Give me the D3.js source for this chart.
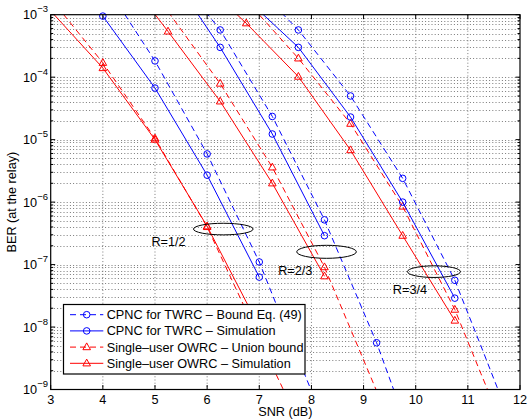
<!DOCTYPE html>
<html>
<head>
<meta charset="utf-8">
<script src="https://cdn.jsdelivr.net/npm/d3@7"></script>
<style>
  html, body { margin: 0; padding: 0; background: #fff; }
  svg { display: block; font-family: "Liberation Sans", Arial, Helvetica, sans-serif; }
</style>
</head>
<body>
<svg id="chart" width="529" height="419"></svg>
<script>
// ---- data: BER at the relay vs SNR (dB) ----
const snrTicks = [3, 4, 5, 6, 7, 8, 9, 10, 11, 12];
const berDecades = [-9, -8, -7, -6, -5, -4, -3];

// SNR points that carry a marker, per code rate
const markSnrR12 = [4, 5, 6, 7];
const markSnrR23 = [5.25, 6.25, 7.25, 8.25, 9.25];
const markSnrR34 = [6.75, 7.75, 8.75, 9.75, 10.75];

// R = 1/2
const snrBoundR12 = [4, 5, 6, 7, 7.5, 8];
const berBoundR12 = [3.5e-3, 1.82e-4, 5.9e-6, 1.1e-7, 1.0e-8, 9.5e-10];
const snrSimR12 = [4, 5, 6, 7];
const berSimR12 = [9.5e-4, 6.7e-5, 2.7e-6, 6.3e-8];
const snrUnionR12 = [3, 4, 5, 6, 7, 7.5];
const berUnionR12 = [1.8e-3, 1.7e-4, 1.05e-5, 4.0e-7, 6.5e-9, 8.5e-10];
const snrSuSimR12 = [3, 4, 5, 6, 7];
const berSuSimR12 = [1.15e-3, 1.4e-4, 1.0e-5, 4.1e-7, 1.0e-8];

// R = 2/3
const snrBoundR23 = [5.25, 6.25, 7.25, 8.25, 9.25, 9.75];
const berBoundR23 = [6.3e-3, 5.7e-4, 2.35e-5, 5.2e-7, 5.6e-9, 4.0e-10];
const snrSimR23 = [5.25, 6.25, 7.25, 8.25];
const berSimR23 = [5.2e-3, 3.0e-4, 1.23e-5, 2.9e-7];
const snrUnionR23 = [5.25, 6.25, 7.25, 8.25, 9.25];
const berUnionR23 = [1.12e-3, 7.9e-5, 3.6e-6, 9.1e-8, 9.5e-10];
const snrSuSimR23 = [4.75, 5.25, 6.25, 7.25, 8.25];
const berSuSimR23 = [1.9e-3, 5.4e-4, 4.1e-5, 2.0e-6, 6.5e-8];

// R = 3/4
const snrBoundR34 = [6.75, 7.75, 8.75, 9.75, 10.75, 11.25, 11.75];
const berBoundR34 = [4.0e-3, 5.7e-4, 5.0e-5, 2.4e-6, 5.6e-8, 5.0e-9, 4.3e-10];
const snrSimR34 = [6.75, 7.75, 8.75, 9.75, 10.75];
const berSimR34 = [1.8e-3, 3.0e-4, 2.3e-5, 1.0e-6, 2.9e-8];
const snrUnionR34 = [6.75, 7.75, 8.75, 9.75, 10.75, 11.25, 11.75];
const berUnionR34 = [1.7e-3, 2.0e-4, 1.8e-5, 8.5e-7, 1.9e-8, 1.8e-9, 1.8e-10];
const snrSuSimR34 = [6.25, 6.75, 7.75, 8.75, 9.75, 10.75];
const berSuSimR34 = [1.8e-3, 7.3e-4, 1.02e-4, 6.8e-6, 2.9e-7, 1.27e-8];

const seriesNames = [
  "CPNC for TWRC \u2013 Bound Eq. (49)",
  "CPNC for TWRC \u2013 Simulation",
  "Single\u2013user OWRC \u2013 Union bound",
  "Single\u2013user OWRC \u2013 Simulation"
];

// rate annotations: ellipse centre, label centre (SNR, BER)
const rateLabels = ["R=1/2", "R=2/3", "R=3/4"];
const ellipseSnr = [6.31, 8.29, 10.35];
const ellipseBer = [3.7e-7, 1.6e-7, 7.7e-8];
const labelSnr = [5.26, 7.69, 9.89];
const labelBer = [2.3e-7, 7.9e-8, 4.0e-8];

// ---- styles ----
const BLUE = "#0000ff", RED = "#ff0000";
const styles = [
  { color: BLUE, dash: "6,4", marker: "circle" },
  { color: BLUE, dash: null, marker: "circle" },
  { color: RED, dash: "6,4", marker: "triangle" },
  { color: RED, dash: null, marker: "triangle" }
];

const curves = [
  { s: 0, snr: snrBoundR12, ber: berBoundR12, marks: markSnrR12 },
  { s: 2, snr: snrUnionR12, ber: berUnionR12, marks: markSnrR12 },
  { s: 1, snr: snrSimR12, ber: berSimR12, marks: markSnrR12 },
  { s: 3, snr: snrSuSimR12, ber: berSuSimR12, marks: markSnrR12 },
  { s: 0, snr: snrBoundR23, ber: berBoundR23, marks: markSnrR23 },
  { s: 2, snr: snrUnionR23, ber: berUnionR23, marks: markSnrR23 },
  { s: 1, snr: snrSimR23, ber: berSimR23, marks: markSnrR23 },
  { s: 3, snr: snrSuSimR23, ber: berSuSimR23, marks: markSnrR23 },
  { s: 0, snr: snrBoundR34, ber: berBoundR34, marks: markSnrR34 },
  { s: 2, snr: snrUnionR34, ber: berUnionR34, marks: markSnrR34 },
  { s: 1, snr: snrSimR34, ber: berSimR34, marks: markSnrR34 },
  { s: 3, snr: snrSuSimR34, ber: berSuSimR34, marks: markSnrR34 }
];

// ---- layout ----
const L = 50.7, R = 520, T = 14.7, B = 389.5;
const x = d3.scaleLinear().domain([3, 12]).range([L, R]);
const y = d3.scaleLog().domain([1e-9, 1e-3]).range([B, T]);

const svg = d3.select("#chart");
svg.append("defs").append("clipPath").attr("id", "plotClip")
  .append("rect").attr("x", L).attr("y", T).attr("width", R - L).attr("height", B - T);

// grid
const grid = svg.append("g").attr("stroke", "#7a7a7a").attr("stroke-width", 1)
  .attr("stroke-dasharray", "1,2.2").attr("fill", "none");
snrTicks.slice(1, -1).forEach(v => {
  grid.append("line").attr("x1", x(v)).attr("x2", x(v)).attr("y1", T).attr("y2", B);
});
const yGridVals = [];
berDecades.forEach(d => {
  for (let m = 1; m <= 9; m++) {
    const v = m * Math.pow(10, d);
    if (v > 1e-9 * 1.0001 && v < 1e-3 * 0.9999) yGridVals.push(v);
  }
});
yGridVals.forEach(v => {
  const yy = Math.round(y(v)) + 0.5;
  grid.append("line").attr("x1", L).attr("x2", R).attr("y1", yy).attr("y2", yy);
});

// markers
function markerPath(type) {
  if (type === "circle") return d3.path();
  return null;
}
function drawMarker(g, type, cx, cy, color) {
  if (type === "circle") {
    g.append("circle").attr("cx", cx).attr("cy", cy).attr("r", 3.3)
      .attr("fill", "none").attr("stroke", color).attr("stroke-width", 1);
  } else {
    g.append("path").attr("d", `M${cx},${cy - 4.2}L${cx + 3.8},${cy + 2.6}L${cx - 3.8},${cy + 2.6}Z`)
      .attr("fill", "none").attr("stroke", color).attr("stroke-width", 1);
  }
}

// curves
const line = d3.line().x(d => x(d[0])).y(d => y(d[1]));
const curveG = svg.append("g");
curves.forEach(c => {
  const st = styles[c.s];
  const pts = c.snr.map((v, i) => [v, c.ber[i]]);
  curveG.append("path").attr("d", line(pts)).attr("clip-path", "url(#plotClip)")
    .attr("fill", "none").attr("stroke", st.color).attr("stroke-width", 1)
    .attr("stroke-dasharray", st.dash);
  pts.forEach(p => {
    if (c.marks.includes(p[0]) && p[1] <= 1e-3 && p[1] >= 1e-9) {
      drawMarker(curveG, st.marker, x(p[0]), y(p[1]), st.color);
    }
  });
});

// rate ellipses and labels
const ann = svg.append("g");
rateLabels.forEach((t, i) => {
  ann.append("ellipse").attr("cx", x(ellipseSnr[i])).attr("cy", y(ellipseBer[i]))
    .attr("rx", i === 2 ? 26.5 : 29.8).attr("ry", i === 1 ? 6.5 : 5.8)
    .attr("fill", "none").attr("stroke", "#000").attr("stroke-width", 1);
  ann.append("text").attr("x", x(labelSnr[i])).attr("y", y(labelBer[i]))
    .attr("dy", "0.35em").attr("text-anchor", "middle").attr("font-size", 12.7)
    .attr("fill", "#000").text(t);
});

// axes frame and ticks
const ax = svg.append("g").attr("stroke", "#000").attr("stroke-width", 1).attr("fill", "none");
ax.append("rect").attr("x", L).attr("y", T).attr("width", R - L).attr("height", B - T)
  .attr("stroke-width", 1.2);
snrTicks.forEach(v => {
  const xx = x(v);
  ax.append("line").attr("x1", xx).attr("x2", xx).attr("y1", B).attr("y2", B - 4.5);
  ax.append("line").attr("x1", xx).attr("x2", xx).attr("y1", T).attr("y2", T + 4.5);
});
berDecades.forEach(d => {
  const yy = y(Math.pow(10, d));
  ax.append("line").attr("x1", L).attr("x2", L + 4.5).attr("y1", yy).attr("y2", yy);
  ax.append("line").attr("x1", R).attr("x2", R - 4.5).attr("y1", yy).attr("y2", yy);
});
yGridVals.forEach(v => {
  if (Math.abs(Math.log10(v) - Math.round(Math.log10(v))) < 1e-9) return;
  const yy = y(v);
  ax.append("line").attr("x1", L).attr("x2", L + 2.5).attr("y1", yy).attr("y2", yy);
  ax.append("line").attr("x1", R).attr("x2", R - 2.5).attr("y1", yy).attr("y2", yy);
});

// tick labels
const lab = svg.append("g").attr("fill", "#000").attr("font-size", 12.7);
snrTicks.forEach(v => {
  lab.append("text").attr("x", x(v)).attr("y", 403.5).attr("text-anchor", "middle").text(v);
});
berDecades.forEach(d => {
  const t = lab.append("text").attr("x", 48).attr("y", y(Math.pow(10, d)) + 4.6)
    .attr("text-anchor", "end");
  t.append("tspan").text("10");
  t.append("tspan").attr("dy", -7).attr("font-size", 9.5).text("\u2212" + Math.abs(d));
});

// axis titles
svg.append("text").attr("x", (L + R) / 2).attr("y", 416).attr("text-anchor", "middle")
  .attr("font-size", 12.7).text("SNR (dB)");
svg.append("text").attr("transform", `translate(16,${(T + B) / 2}) rotate(-90)`)
  .attr("text-anchor", "middle").attr("font-size", 12.7).text("BER (at the relay)");

// legend
const lg = svg.append("g");
lg.append("rect").attr("x", 63.5).attr("y", 304.5).attr("width", 241.5).attr("height", 69.5)
  .attr("fill", "#fff").attr("stroke", "#000").attr("stroke-width", 1.2);
seriesNames.forEach((name, i) => {
  const st = styles[i];
  const yy = 314.7 + i * 16.2;
  lg.append("line").attr("x1", 70).attr("x2", 103.3).attr("y1", yy).attr("y2", yy)
    .attr("stroke", st.color).attr("stroke-width", 1).attr("stroke-dasharray", st.dash);
  drawMarker(lg, st.marker, 86.7, yy, st.color);
  lg.append("text").attr("x", 106.7).attr("y", yy + 4.5).attr("font-size", 12.7)
    .attr("fill", "#000").text(name);
});
</script>
</body>
</html>
